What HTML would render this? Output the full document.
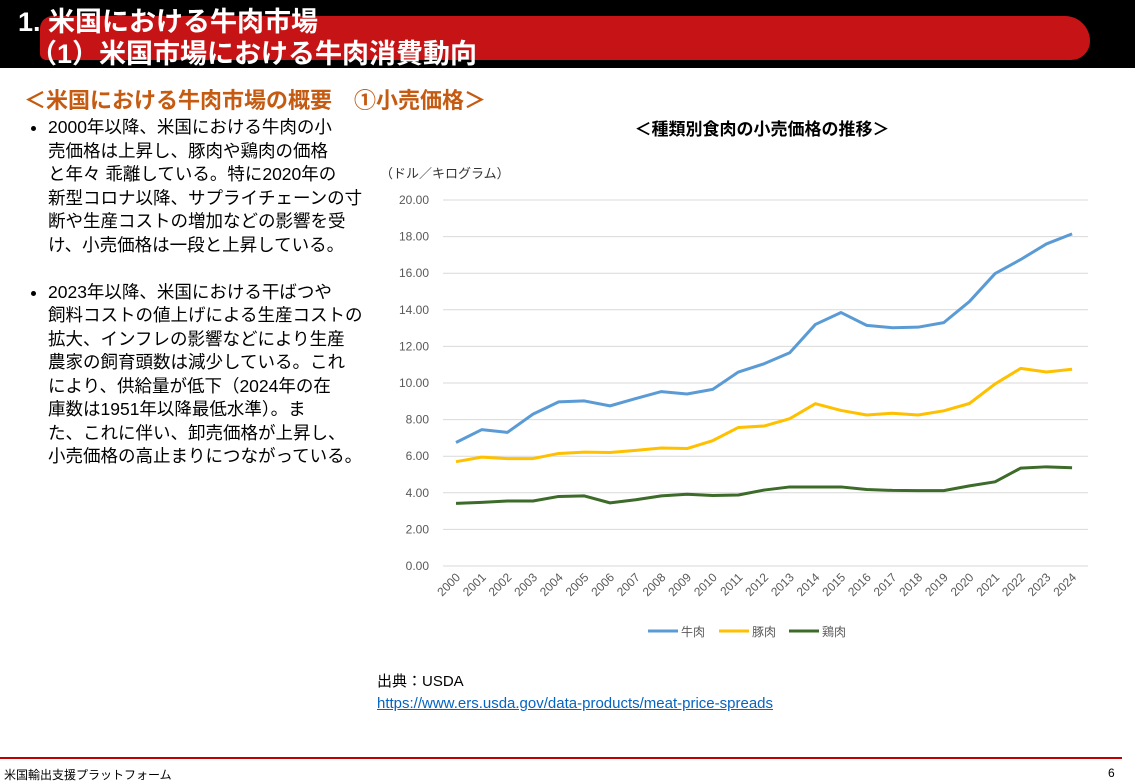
<!DOCTYPE html>
<html><head><meta charset="utf-8"><style>
body{margin:0;width:1135px;height:782px;background:#fff;position:relative;overflow:hidden;font-family:"Liberation Sans","Noto Sans CJK JP",sans-serif;}
.hdr{position:absolute;left:0;top:0;width:1135px;height:68px;background:#000;}
.brush{position:absolute;left:40px;top:16px;width:1050px;height:44px;background:#c61416;border-radius:20px 40px 30px 10px;}
.t1{position:absolute;left:18px;top:0px;color:#fff;font-size:27px;font-weight:bold;white-space:nowrap;}
.t2{position:absolute;left:30px;top:32px;color:#fff;font-size:27px;font-weight:bold;white-space:nowrap;}
.sub{position:absolute;left:24px;top:83px;color:#c55a11;font-size:22px;font-weight:bold;white-space:nowrap;}
ul{position:absolute;left:28px;top:116px;margin:0;padding:0 0 0 20px;width:360px;font-size:17.5px;line-height:23.5px;color:#000;white-space:nowrap;}
li{margin-bottom:23.5px;}
.foot{position:absolute;left:0;top:757px;width:1122px;border-top:2px solid #c00000;}
.fl{position:absolute;left:4px;top:766px;font-size:12px;}
.fr{position:absolute;left:1108px;top:766px;font-size:12px;}
.src{position:absolute;left:377px;top:671px;font-size:15px;line-height:22px;}
.src a{color:#0563c1;text-decoration:underline;}
</style></head><body>
<div class="hdr"><div class="brush"></div><div class="t1">1. 米国における牛肉市場</div><div class="t2">（1）米国市場における牛肉消費動向</div></div>
<div class="sub">＜米国における牛肉市場の概要　①小売価格＞</div>
<ul>
<li>2000年以降、米国における牛肉の小<br>売価格は上昇し、豚肉や鶏肉の価格<br>と年々 乖離している。特に2020年の<br>新型コロナ以降、サプライチェーンの寸<br>断や生産コストの増加などの影響を受<br>け、小売価格は一段と上昇している。</li>
<li>2023年以降、米国における干ばつや<br>飼料コストの値上げによる生産コストの<br>拡大、インフレの影響などにより生産<br>農家の飼育頭数は減少している。これ<br>により、供給量が低下（2024年の在<br>庫数は1951年以降最低水準）。ま<br>た、これに伴い、卸売価格が上昇し、<br>小売価格の高止まりにつながっている。</li>
</ul>
<svg id="c" style="position:absolute;left:0;top:0" width="1135" height="782"></svg>
<div class="src">出典：USDA<br><a>https://www.ers.usda.gov/data-products/meat-price-spreads</a></div>
<div class="foot"></div><div class="fl">米国輸出支援プラットフォーム</div><div class="fr">6</div>
<script>
var s=document.getElementById('c'),h='';
function Y(v){return 566-v*18.3;}function X(i){return 456+i*25.67;}
h+='<text x="762" y="135" font-size="17" font-weight="bold" text-anchor="middle" font-family="Liberation Sans,Noto Sans CJK JP,sans-serif">＜種類別食肉の小売価格の推移＞</text>';
h+='<text x="380" y="178" font-size="13" fill="#333" font-family="Liberation Sans,Noto Sans CJK JP,sans-serif">（ドル／キログラム）</text>';
for(var v=0;v<=20;v+=2){h+='<line x1="443" x2="1088" y1="'+Y(v)+'" y2="'+Y(v)+'" stroke="#d9d9d9"/>';h+='<text x="429" y="'+(Y(v)+4)+'" font-size="12" fill="#595959" text-anchor="end" font-family="Liberation Sans,sans-serif">'+v.toFixed(2)+'</text>';}
for(var i=0;i<25;i++){h+='<text transform="translate('+(X(i)+5)+',578) rotate(-45)" font-size="12" fill="#595959" text-anchor="end" font-family="Liberation Sans,sans-serif">'+(2000+i)+'</text>';}
var d=[["#5b9bd5",[6.75,7.45,7.3,8.3,8.97,9.02,8.75,9.15,9.53,9.4,9.65,10.6,11.05,11.65,13.2,13.85,13.15,13.02,13.05,13.3,14.45,15.98,16.75,17.6,18.15]],
["#ffc000",[5.7,5.95,5.87,5.87,6.15,6.22,6.2,6.32,6.45,6.42,6.85,7.57,7.65,8.05,8.87,8.5,8.25,8.35,8.25,8.48,8.88,9.95,10.8,10.6,10.75]],
["#3d6b2a",[3.42,3.48,3.55,3.55,3.8,3.83,3.45,3.62,3.83,3.92,3.85,3.88,4.15,4.32,4.32,4.32,4.18,4.13,4.12,4.12,4.38,4.6,5.35,5.42,5.37]]];
d.forEach(function(s){h+='<polyline fill="none" stroke="'+s[0]+'" stroke-width="3" stroke-linejoin="round" points="'+s[1].map(function(v,i){return X(i)+','+Y(v)}).join(' ')+'"/>';});
var L=[["#5b9bd5","牛肉",648],["#ffc000","豚肉",719],["#3d6b2a","鶏肉",789]];
L.forEach(function(l){h+='<line x1="'+l[2]+'" x2="'+(l[2]+30)+'" y1="631" y2="631" stroke="'+l[0]+'" stroke-width="3"/><text x="'+(l[2]+33)+'" y="636" font-size="12" fill="#595959" font-family="Liberation Sans,Noto Sans CJK JP,sans-serif">'+l[1]+'</text>';});
s.innerHTML=h;
</script>
</body></html>
